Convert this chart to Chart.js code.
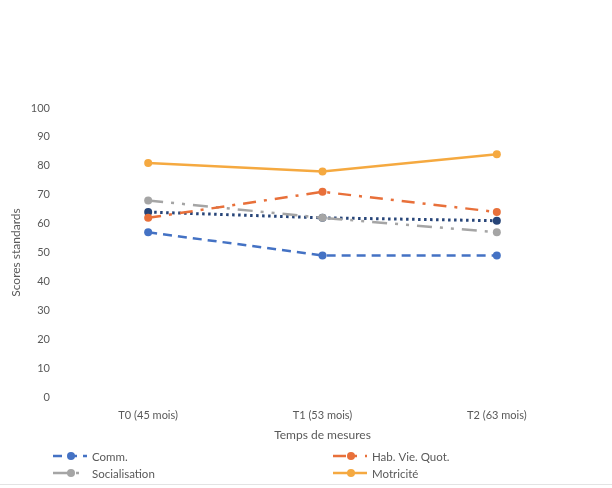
<!DOCTYPE html>
<html>
<head>
<meta charset="utf-8">
<script src="https://cdn.jsdelivr.net/npm/chart.js@4.4.1/dist/chart.umd.min.js"></script>
<style>
  html, body { margin: 0; padding: 0; background: #fff; }
  #wrap { position: relative; width: 612px; height: 488px; }
  #frame { position: absolute; left: 0; top: 484px; width: 612px; height: 1px; background: #e3e3e3; }
</style>
</head>
<body>
<div id="wrap">
  <canvas id="chart" width="612" height="488"></canvas>
  <div id="frame"></div>
</div>
<script>
const categories = ['T0 (45 mois)', 'T1 (53 mois)', 'T2 (63 mois)'];
const comm = [57, 49, 49];
const habVieQuot = [62, 71, 64];
const socialisation = [68, 62, 57];
const motricite = [81, 78, 84];
const composite = [64, 62, 61];
const yTicks = [0, 10, 20, 30, 40, 50, 60, 70, 80, 90, 100];

const FONT = 'Lato, "Open Sans", sans-serif';
const TEXT = '#595959';

// legend drawn on the canvas, two columns like the Excel original
const legendItems = [
  { ds: 0, x: 53, y: 456 },
  { ds: 1, x: 333, y: 456 },
  { ds: 2, x: 53, y: 473 },
  { ds: 3, x: 333, y: 473 }
];

const gridLegend = {
  id: 'gridLegend',
  afterDraw(chart) {
    const ctx = chart.ctx;
    ctx.save();
    legendItems.forEach(item => {
      const ds = chart.data.datasets[item.ds];
      ctx.strokeStyle = ds.borderColor;
      ctx.lineWidth = ds.borderWidth;
      ctx.setLineDash(ds.borderDash || []);
      ctx.beginPath();
      ctx.moveTo(item.x, item.y);
      ctx.lineTo(item.x + 34, item.y);
      ctx.stroke();
      ctx.setLineDash([]);
      ctx.fillStyle = ds.pointBackgroundColor;
      ctx.beginPath();
      ctx.arc(item.x + 18, item.y, 4, 0, Math.PI * 2);
      ctx.fill();
      ctx.fillStyle = TEXT;
      ctx.font = '11.5px ' + FONT;
      ctx.textBaseline = 'middle';
      ctx.fillText(ds.label, item.x + 39, item.y + 1);
    });
    ctx.restore();
  }
};

function series(label, data, color, dash, width) {
  return {
    label: label,
    data: data,
    borderColor: color,
    backgroundColor: color,
    pointBackgroundColor: color,
    pointBorderColor: color,
    borderWidth: width || 2.5,
    borderDash: dash,
    pointRadius: 4,
    pointBorderWidth: 0,
    pointHoverRadius: 4,
    tension: 0,
    fill: false
  };
}

new Chart(document.getElementById('chart'), {
  type: 'line',
  data: {
    labels: categories,
    datasets: [
      series('Comm.', comm, '#4472C4', [9, 6]),
      series('Hab. Vie. Quot.', habVieQuot, '#E8703A', [13, 8, 3, 8]),
      series('Socialisation', socialisation, '#A5A5A5', [15, 8, 3, 8, 3, 8]),
      series('Motricité', motricite, '#F5A940', []),
      series('Composite', composite, '#264478', [2.5, 3.5], 3)
    ]
  },
  options: {
    responsive: false,
    animation: false,
    layout: { padding: { top: 108, right: 28, bottom: 46, left: 9 } },
    plugins: {
      legend: { display: false },
      tooltip: { enabled: false }
    },
    scales: {
      x: {
        offset: true,
        grid: { display: false, drawTicks: false },
        border: { display: false },
        ticks: { color: TEXT, font: { family: FONT, size: 11 }, padding: 12 },
        title: { display: true, text: 'Temps de mesures', color: TEXT, font: { family: FONT, size: 12 }, padding: { top: 2, bottom: 0 } },
        afterFit(scale) { scale.height = 45; }
      },
      y: {
        min: 0,
        max: 100,
        afterBuildTicks(scale) { scale.ticks = yTicks.map(v => ({ value: v })); },
        grid: { display: false, drawTicks: false },
        border: { display: false },
        ticks: { color: TEXT, font: { family: FONT, size: 11 }, padding: 11 },
        title: { display: true, text: 'Scores standards', color: TEXT, font: { family: FONT, size: 12 }, padding: { top: 0, bottom: 0 } },
        afterFit(scale) { scale.width = 52; }
      }
    }
  },
  plugins: [gridLegend]
});
</script>
</body>
</html>
